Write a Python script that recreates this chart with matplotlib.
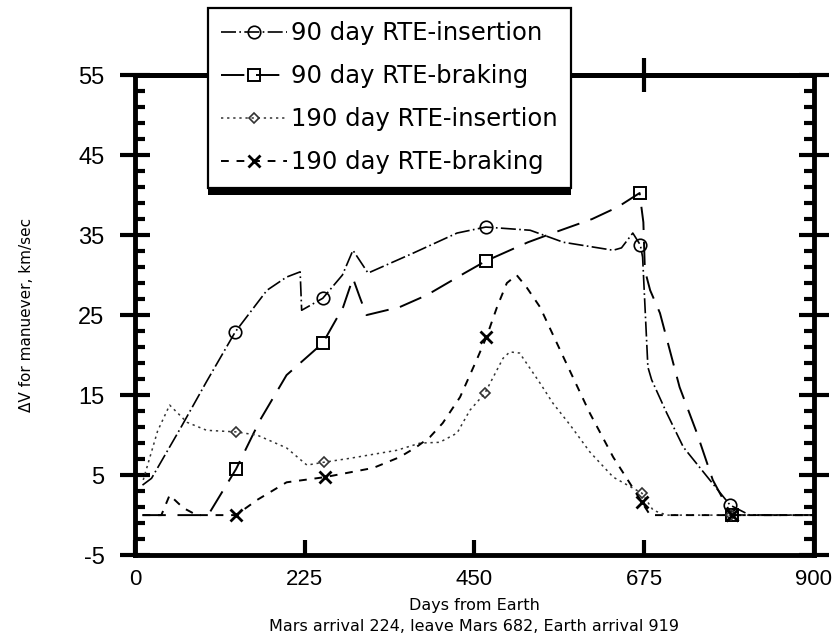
import numpy as np
import matplotlib.pyplot as plt
from matplotlib.patches import Rectangle
from matplotlib.transforms import IdentityTransform

plt.rcParams["axes.unicode_minus"] = False

# 90 day stay, RTE insertion
ins90_days = [10, 22, 60, 95, 133, 175, 201, 219, 221, 249, 275, 289, 309, 369, 427,
              465, 524, 568, 634, 645, 660, 670, 673, 680, 685, 705, 727, 762, 789, 815, 900]
ins90_dv = [3.75, 4.6, 10.8, 16.7, 22.9, 28.1, 29.75, 30.4, 25.6, 27.1, 30.0, 33.1, 30.25, 32.75, 35.25,
            36.0, 35.6, 34.1, 33.1, 33.4, 35.25, 33.75, 32.25, 18.5, 16.9, 12.75, 8.5, 4.4, 1.25, 0, 0]
ins90_marks = [4, 9, 15, 21, 28]

# 90 day stay, RTE braking
brk90_days = [10, 97, 134, 166, 201, 249, 276, 289, 298, 307, 351, 387, 437, 465, 521,
              554, 606, 640, 669, 674, 676, 683, 696, 722, 745, 766, 791, 900]
brk90_dv = [0, 0, 5.75, 11.9, 17.5, 21.5, 26.0, 29.6, 27.25, 25.0, 26.0, 27.5, 30.25, 31.75, 34.1,
            35.25, 37.0, 38.5, 40.25, 36.6, 30.6, 28.1, 25.25, 16.0, 10.25, 4.4, 0, 0]
brk90_marks = [2, 5, 13, 18, 26]

# 190 day stay, RTE insertion
ins190_days = [11, 30, 46, 69, 95, 134, 162, 201, 228, 250, 285, 347, 378, 404, 427, 444,
               464, 475, 488, 497, 510, 537, 554, 577, 603, 634, 672, 687, 705, 790, 900]
ins190_dv = [4.4, 10.5, 13.75, 11.6, 10.6, 10.4, 10.0, 8.4, 6.25, 6.6, 7.1, 8.1, 9.0, 9.1, 10.25, 13.1,
             15.25, 17.25, 19.6, 20.4, 20.25, 16.5, 14.0, 11.25, 7.9, 4.75, 2.75, 0.6, 0, 0, 0]
ins190_marks = [5, 9, 16, 26, 29]

# 190 day stay, RTE braking
brk190_days = [10, 35, 46, 64, 82, 134, 162, 201, 252, 316, 351, 373, 391, 408, 431, 453,
               466, 480, 493, 506, 519, 537, 568, 603, 634, 656, 672, 683, 791, 900]
brk190_dv = [0, 0, 2.5, 0.9, 0, 0, 1.9, 4.1, 4.75, 5.9, 7.25, 8.5, 9.75, 11.5, 14.75, 19.4,
             22.25, 26.0, 29.0, 30.0, 28.5, 26.0, 19.75, 12.75, 7.25, 4.0, 1.6, 0, 0, 0]
brk190_marks = [5, 8, 16, 26, 28]

xticks = [0, 225, 450, 675, 900]
yticks = [-5, 5, 15, 25, 35, 45, 55]


def make_plot():
    fig = plt.figure(figsize=(8.33, 6.44), dpi=100)
    ax = fig.add_axes([0.162, 0.138, 0.815, 0.7455])

    ax.plot(ins90_days, ins90_dv, color="black", lw=1.2, ls=(0, (9, 2, 1, 2)),
            marker="o", ms=9, mfc="none", mec="black", mew=1.2, markevery=ins90_marks,
            label="90 day RTE-insertion")
    ax.plot(brk90_days, brk90_dv, color="black", lw=1.4, ls=(0, (12, 6)),
            marker="s", ms=9, mfc="none", mec="black", mew=1.4, markevery=brk90_marks,
            label="90 day RTE-braking")
    ax.plot(ins190_days, ins190_dv, color="#333333", lw=1.1, ls=(0, (1.5, 2.5)),
            marker="D", ms=5.5, mfc="none", mec="#333333", mew=1.2, markevery=ins190_marks,
            label="190 day RTE-insertion")
    ax.plot(brk190_days, brk190_dv, color="black", lw=1.4, ls=(0, (4, 4)),
            marker="x", ms=9, mec="black", mew=2, markevery=brk190_marks,
            label="190 day RTE-braking")

    ax.set_xlim(0, 900)
    ax.set_ylim(-5, 55)
    ax.set_xticks(xticks)
    ax.set_yticks(yticks)
    ax.set_yticks(np.arange(-5, 56, 2), minor=True)
    for lab in ax.get_xticklabels() + ax.get_yticklabels():
        lab.set_family("Liberation Sans")

    for s in ax.spines.values():
        s.set_linewidth(3.5)

    ax.tick_params(axis="y", which="major", direction="inout", length=22, width=3,
                   left=True, right=True, labelsize=17, pad=11)
    ax.tick_params(axis="y", which="minor", direction="in", length=7, width=3,
                   left=True, right=True)
    ax.tick_params(axis="x", which="major", direction="in", length=11, width=3,
                   bottom=True, top=False, labelsize=16, pad=10)

    top = ax.secondary_xaxis("top")
    top.set_xticks(xticks[1:-1])
    top.tick_params(direction="inout", length=24, width=3, labeltop=False)
    top.spines["top"].set_linewidth(3.5)

    ax.set_ylabel("ΔV for manuever, km/sec", fontsize=11)
    ax.yaxis.set_label_coords(-0.148, 0.5)
    ax.set_xlabel("Days from Earth\nMars arrival 224, leave Mars 682, Earth arrival 919",
                  fontsize=11.5, labelpad=6, linespacing=1.5)

    leg = ax.legend(loc="upper left", bbox_to_anchor=(208 / 833, 1 - 8 / 644),
                    bbox_transform=fig.transFigure, borderaxespad=0, fontsize=17.5,
                    frameon=True, fancybox=False, framealpha=1, edgecolor="black",
                    borderpad=0.55, labelspacing=0.78, handlelength=2.7, handletextpad=0.15)
    leg.get_frame().set_linewidth(1.6)
    leg.set_zorder(10)

    fig.canvas.draw()
    bb = leg.get_window_extent()
    shadow = Rectangle((bb.x0, bb.y0 - 7), bb.width, 8, transform=IdentityTransform(),
                       facecolor="black", edgecolor="none", zorder=11)
    fig.add_artist(shadow)

    fig.savefig("out.png", dpi=100)


if __name__ == "__main__":
    make_plot()
